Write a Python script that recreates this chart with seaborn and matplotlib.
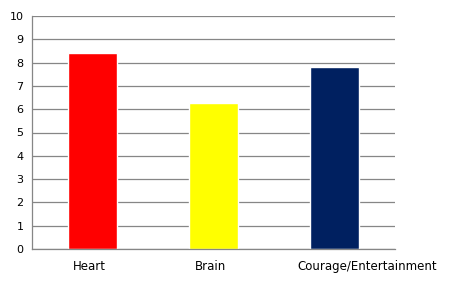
import matplotlib
matplotlib.use("Agg")
import matplotlib.pyplot as plt
import matplotlib.transforms as mtransforms
import seaborn as sns
import pandas as pd

categories = ["Heart", "Brain", "Courage/Entertainment"]
values = [8.4, 6.25, 7.8]
colors = ["#FF0000", "#FFFF00", "#002060"]
yticks = list(range(0, 11))

sns.set_style("white")
plt.rcParams['font.family'] = ['DejaVu Sans']

W, H = 472, 291
fig = plt.figure(figsize=(W / 100, H / 100), dpi=100)
ax = fig.add_axes([32 / W, 1 - 249 / H, (395 - 32) / W, (249 - 16) / H])

df = pd.DataFrame({"cat": categories, "val": values})
sns.barplot(data=df, x="cat", y="val", hue="cat", palette=colors, width=0.4,
            legend=False, ax=ax, saturation=1)

ax.set_ylim(0, 10)
ax.set_xlim(-0.5, 2.5)
ax.set_yticks(yticks)
ax.yaxis.grid(True, color="#868686", linewidth=0.9)
ax.set_axisbelow(True)
ax.set_xlabel("")
ax.set_ylabel("")
for s in ["top", "right"]:
    ax.spines[s].set_visible(False)
for s in ["left", "bottom"]:
    ax.spines[s].set_color("#868686")
    ax.spines[s].set_linewidth(0.9)

ax.set_xticks([0, 1, 2])
ax.set_xticklabels(categories)
ax.set_xticks([-0.5, 0.5, 1.5, 2.5], minor=True)
ax.tick_params(axis="x", which="major", length=0, pad=8, labelsize=8.5, colors="black")
ax.tick_params(axis="x", which="minor", length=4, width=0.9, color="#868686", direction="out")
ax.tick_params(axis="y", length=4, width=0.9, color="#868686", direction="out", labelsize=8, pad=2, colors="black")
for lbl in ax.get_yticklabels():
    lbl.set_color("black")

# shift the x labels slightly, as in the reference
shifts = [-3, -3, 33]
for lbl, dx in zip(ax.get_xticklabels(), shifts):
    lbl.set_transform(lbl.get_transform() +
                      mtransforms.ScaledTranslation(dx / 100, 0, fig.dpi_scale_trans))

fig.savefig("out.png", dpi=100)
